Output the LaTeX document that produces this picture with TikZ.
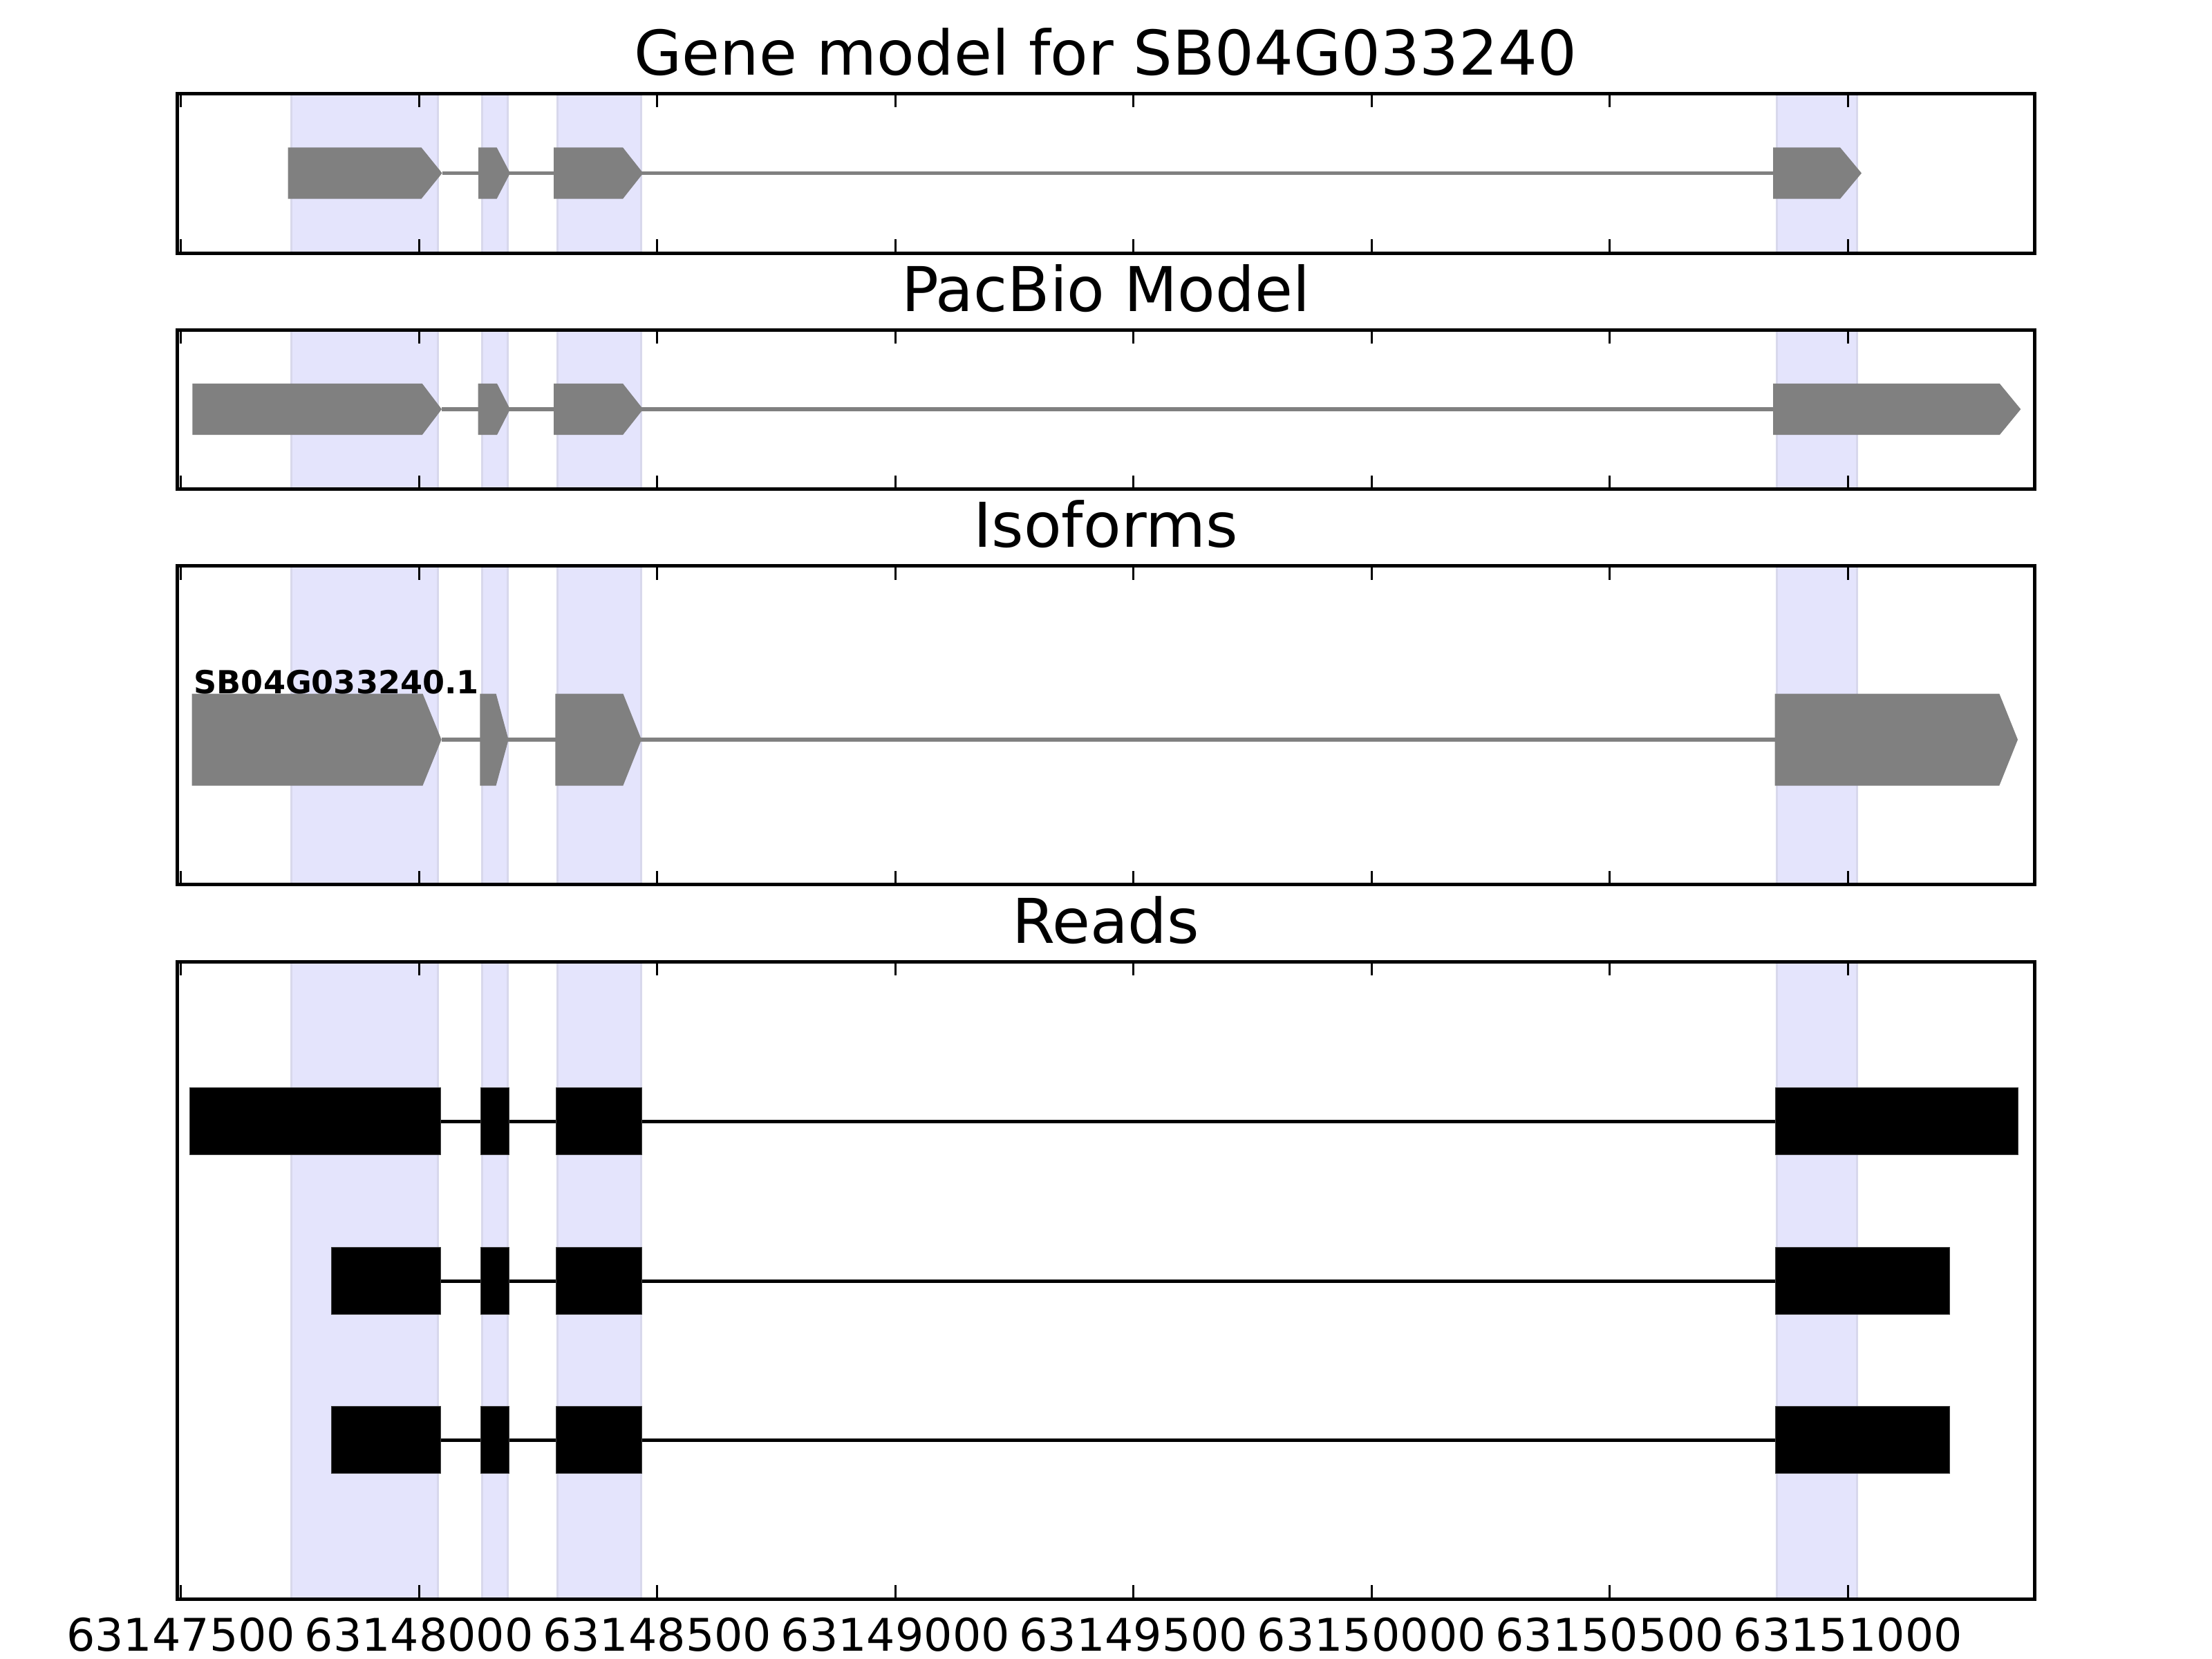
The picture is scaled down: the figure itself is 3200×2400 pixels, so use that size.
\documentclass[tikz,border=0pt]{standalone}
\usepackage{fontspec}
\setmainfont{DejaVu Sans}

\definecolor{exongray}{RGB}{128,128,128}
\definecolor{bandfill}{RGB}{228,228,252}
\definecolor{bandedge}{RGB}{216,216,236}

\begin{document}
\begin{tikzpicture}[
  x=0.01cm, y=-0.01cm,
  frame/.style={draw=black,line width=0.05cm},
  band/.style={fill=bandfill,draw=bandedge,line width=0.03cm},
  exon/.style={fill=exongray},
  intron/.style={draw=exongray,line width=0.055cm},
  readexon/.style={fill=black,draw=black!75,line width=0.01cm},
  readline/.style={draw=black,line width=0.05cm},
  tickmark/.style={draw=black,line width=0.03cm},
  paneltitle/.style={anchor=base,inner sep=0pt,font=\fontsize{25.4}{30}\selectfont},
  ticklabel/.style={anchor=base,inner sep=0pt,font=\fontsize{18.5}{22}\selectfont},
  isolabel/.style={anchor=base west,inner sep=0pt,font=\fontsize{13.1}{15}\selectfont\bfseries}
]
  \useasboundingbox (0,0) rectangle (3200,2400);

  % four panels: exon bands, ticks and frame
  \foreach \top/\bot in {135.5/366, 477/707.5, 818.5/1279.5, 1391/2313} {
    \foreach \l/\r in {421/633.5, 697/734.5, 806.5/927, 2570.5/2686}
      \filldraw[band] (\l,\top) rectangle (\r,\bot);
    \foreach \k in {0,...,7}
      \draw[tickmark] ({261.8+344.5*\k},\top) -- ++(0,20)
                      ({261.8+344.5*\k},\bot) -- ++(0,-20);
    \draw[frame] (256,\top) rectangle (2943,\bot);
  }

  \node[paneltitle] (gene title) at (1599.5,108.5) {Gene model for SB04G033240};
  \node[paneltitle] (pacbio title) at (1599.5,450) {PacBio Model};
  \node[paneltitle] (iso title) at (1599.5,791.5) {Isoforms};
  \node[paneltitle] (reads title) at (1599.5,1364) {Reads};

  % gene model
  \draw[intron] (639.6,250.5) -- (2565,250.5);
  \foreach \a/\b/\c in {416.6/609.5/639.6, 692/718.6/738, 801/901/930.4, 2565/2662/2693}
    \fill[exon] (\a,213.3) -- (\b,213.3) -- (\c,250.5) -- (\b,287.7) -- (\a,287.7) -- cycle;

  % pacbio model
  \draw[intron] (639,592) -- (2565,592);
  \foreach \a/\b/\c in {278.3/610.7/639, 691.7/719/738, 801/901/930.4, 2565/2892.7/2923.3}
    \fill[exon] (\a,554.8) -- (\b,554.8) -- (\c,592) -- (\b,629.2) -- (\a,629.2) -- cycle;

  % isoforms
  \draw[intron] (638.6,1070) -- (2567.7,1070);
  \foreach \a/\b/\c in {277.5/611.5/638.6, 694.4/717.6/735.6, 803.4/901.4/928, 2567.7/2892.3/2919}
    \fill[exon] (\a,1003.5) -- (\b,1003.5) -- (\c,1070) -- (\b,1136.5) -- (\a,1136.5) -- cycle;
  \node[isolabel] (iso name) at (280,1003) {SB04G033240.1};

  % reads
  \foreach \cy/\s/\e in {1622/274.6/2919.3, 1853/479.3/2820.7, 2083/479.3/2820.7} {
    \draw[readline] (\s,\cy) -- (\e,\cy);
    \foreach \a/\b in {\s/637.5, 695.3/736.5, 804.4/928, 2568.3/\e}
      \filldraw[readexon] (\a,\cy-48.5) rectangle (\b,\cy+48.5);
  }

  % axis labels
  \foreach \k/\lab in {0/63147500, 1/63148000, 2/63148500, 3/63149000,
                       4/63149500, 5/63150000, 6/63150500, 7/63151000}
    \node[ticklabel] (tick \k) at ({261.8+344.5*\k},2388) {\lab};
\end{tikzpicture}
\end{document}
